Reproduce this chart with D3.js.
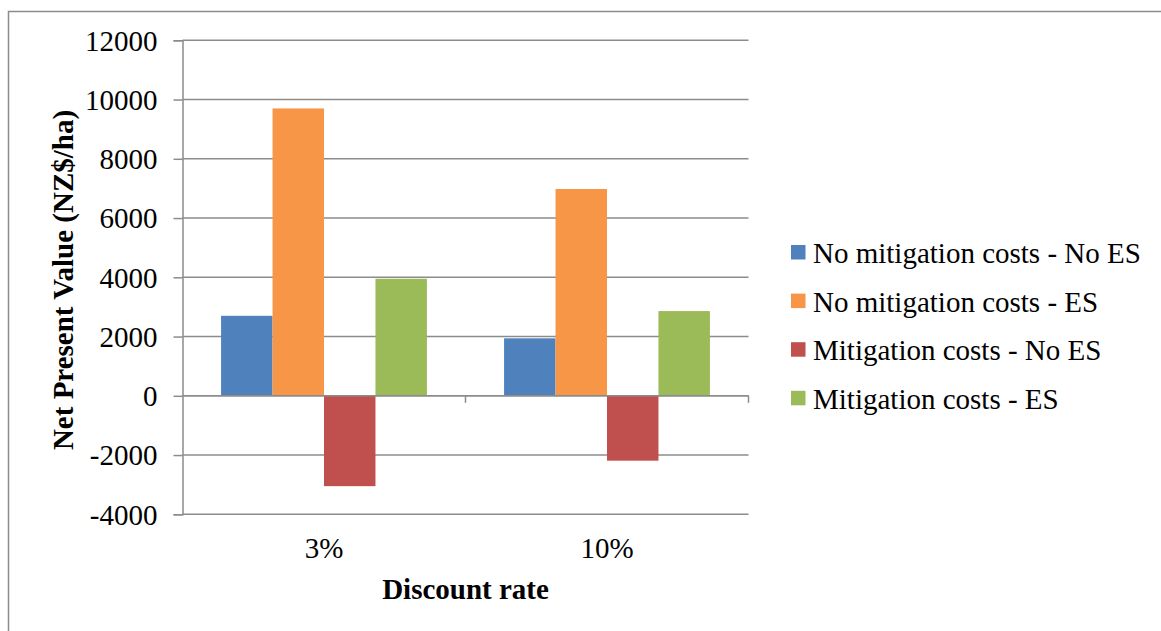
<!DOCTYPE html>
<html>
<head>
<meta charset="utf-8">
<script src="https://cdn.jsdelivr.net/npm/d3@7"></script>
<style>
  html, body { margin: 0; padding: 0; background: #fff; }
  svg { display: block; }
  text { font-family: "Liberation Serif", "Times New Roman", serif; fill: #000; }
</style>
</head>
<body>
<svg id="chart" width="1161" height="631"></svg>
<script>
// Discount rate categories
const categories = ["3%", "10%"];
// Series names (legend order)
const seriesNames = [
  "No mitigation costs - No ES",
  "No mitigation costs - ES",
  "Mitigation costs - No ES",
  "Mitigation costs - ES"
];
const seriesColors = ["#4F81BD", "#F79646", "#C0504D", "#9BBB59"];
// Net present value (NZ$/ha) per series, one value per discount rate
const noMitNoES = [2700, 1940];
const noMitES   = [9700, 6980];
const mitNoES   = [-3050, -2190];
const mitES     = [3950, 2860];
const yTicks = [-4000, -2000, 0, 2000, 4000, 6000, 8000, 10000, 12000];

const seriesValues = [noMitNoES, noMitES, mitNoES, mitES];

const svg = d3.select("#chart");
const grid = "#8c8c8c";

// Outer chart frame (extends past the right and bottom edges)
svg.append("rect")
  .attr("x", 8.5).attr("y", 11.5)
  .attr("width", 1200).attr("height", 700)
  .attr("fill", "none").attr("stroke", grid).attr("stroke-width", 1.5);

const plot = { left: 182.5, right: 748.5, top: 40.3, bottom: 514.3 };

const y = d3.scaleLinear().domain([-4000, 12000]).range([plot.bottom, plot.top]);
const x0 = d3.scaleBand().domain(categories).range([plot.left, plot.right])
  .paddingInner(0.2726).paddingOuter(0.1363);
const x1 = d3.scaleBand().domain(d3.range(seriesNames.length)).range([0, x0.bandwidth()]);

// Horizontal gridlines
svg.append("g").selectAll("line").data(yTicks).join("line")
  .attr("x1", plot.left).attr("x2", plot.right)
  .attr("y1", d => y(d)).attr("y2", d => y(d))
  .attr("stroke", grid).attr("stroke-width", 1.5);

// Y axis with tick marks and labels (plain hyphen for negatives)
const yAxis = svg.append("g")
  .attr("transform", `translate(${plot.left},0)`)
  .call(d3.axisLeft(y).tickValues(yTicks).tickSize(9).tickPadding(16).tickFormat(d => String(d)));
yAxis.select(".domain").attr("stroke", grid).attr("stroke-width", 1.5);
yAxis.selectAll(".tick line").attr("stroke", grid).attr("stroke-width", 1.5);
yAxis.selectAll(".tick text")
  .attr("font-size", 29).attr("dy", "0.34em").attr("fill", "#000");

// Bars
const groups = svg.append("g").selectAll("g").data(categories).join("g")
  .attr("transform", d => `translate(${x0(d)},0)`);
groups.selectAll("rect")
  .data((c, ci) => seriesValues.map((vals, si) => ({ si, v: vals[ci] })))
  .join("rect")
  .attr("x", d => x1(d.si))
  .attr("width", x1.bandwidth())
  .attr("y", d => y(Math.max(0, d.v)))
  .attr("height", d => Math.abs(y(d.v) - y(0)))
  .attr("fill", d => seriesColors[d.si]);

// X axis at zero with category separators
const xAxisLine = svg.append("g");
xAxisLine.append("line")
  .attr("x1", plot.left).attr("x2", plot.right)
  .attr("y1", y(0)).attr("y2", y(0))
  .attr("stroke", grid).attr("stroke-width", 1.5);
const step = x0.step();
const bounds = [plot.left + step, plot.right];
xAxisLine.selectAll(".sep").data(bounds).join("line")
  .attr("x1", d => d).attr("x2", d => d)
  .attr("y1", y(0)).attr("y2", y(0) + 7)
  .attr("stroke", grid).attr("stroke-width", 1.5);

// Category labels
svg.append("g").selectAll("text").data(categories).join("text")
  .attr("x", d => x0(d) + x0.bandwidth() / 2)
  .attr("y", 557.5)
  .attr("text-anchor", "middle")
  .attr("font-size", 29)
  .text(d => d);

// Axis titles
svg.append("text")
  .attr("x", (plot.left + plot.right) / 2)
  .attr("y", 599)
  .attr("text-anchor", "middle")
  .attr("font-size", 29).attr("font-weight", "bold")
  .text("Discount rate");

svg.append("text")
  .attr("transform", `translate(73,280) rotate(-90)`)
  .attr("text-anchor", "middle")
  .attr("font-size", 29).attr("font-weight", "bold")
  .text("Net Present Value (NZ$/ha)");

// Legend
const legend = svg.append("g").selectAll("g").data(seriesNames).join("g")
  .attr("transform", (d, i) => `translate(791,${252 + i * 48.6})`);
legend.append("rect")
  .attr("x", 0).attr("y", -7).attr("width", 14.5).attr("height", 14.5)
  .attr("fill", (d, i) => seriesColors[i]);
legend.append("text")
  .attr("x", 22).attr("y", 11)
  .attr("font-size", 29)
  .text(d => d);
</script>
</body>
</html>
